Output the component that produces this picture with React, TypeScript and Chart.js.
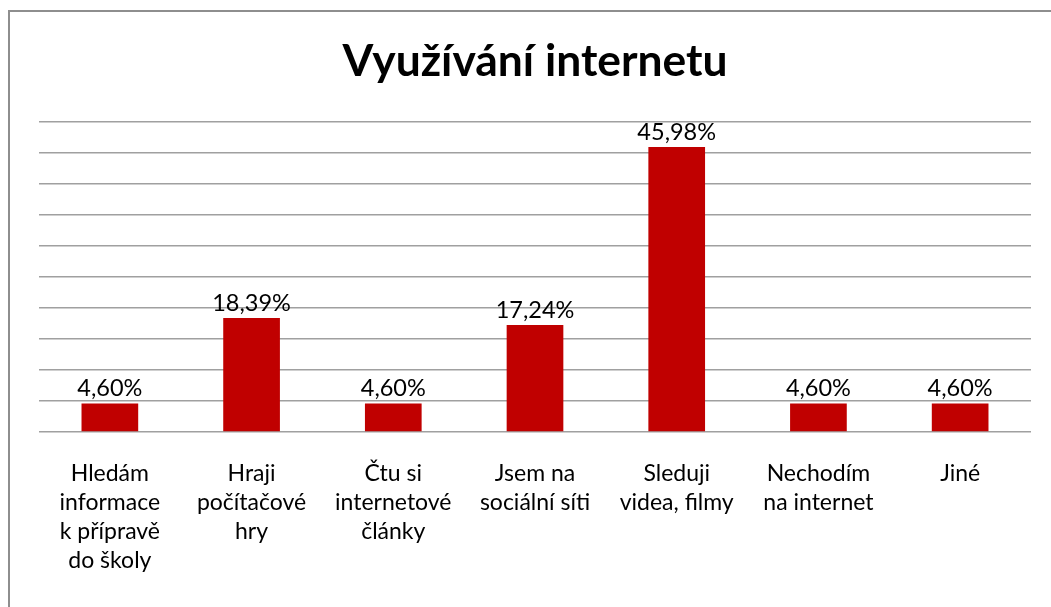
import React, { useEffect, useRef } from "react";
import { Chart, registerables } from "chart.js";

Chart.register(...registerables);

const categories: string[][] = [
  ["Hledám", "informace", "k přípravě", "do školy"],
  ["Hraji", "počítačové", "hry"],
  ["Čtu si", "internetové", "články"],
  ["Jsem na", "sociální síti"],
  ["Sleduji", "videa, filmy"],
  ["Nechodím", "na internet"],
  ["Jiné"],
];

const values: number[] = [4.6, 18.39, 4.6, 17.24, 45.98, 4.6, 4.6];

const titleText = "Využívání internetu";

const FONT = "Lato, 'Noto Sans', sans-serif";

const formatPct = (v: number) => v.toFixed(2).replace(".", ",") + "%";

const valueLabels = {
  id: "valueLabels",
  afterDatasetsDraw(chart: any) {
    const { ctx } = chart;
    const meta = chart.getDatasetMeta(0);
    ctx.save();
    ctx.font = `23.5px ${FONT}`;
    ctx.fillStyle = "#000000";
    ctx.textAlign = "center";
    ctx.textBaseline = "alphabetic";
    meta.data.forEach((bar: any, i: number) => {
      ctx.fillText(formatPct(values[i]), bar.x, bar.y - 7);
    });
    ctx.restore();
  },
};

export default function App() {
  const ref = useRef<HTMLCanvasElement | null>(null);

  useEffect(() => {
    if (!ref.current) return;
    const chart = new Chart(ref.current, {
      type: "bar",
      data: {
        labels: categories,
        datasets: [
          {
            data: values,
            backgroundColor: "#C00000",
            borderWidth: 0,
            categoryPercentage: 1,
            barPercentage: 0.4,
          },
        ],
      },
      options: {
        animation: false,
        responsive: false,
        maintainAspectRatio: false,
        layout: { padding: { left: 39, right: 20, top: 0, bottom: 0 } },
        plugins: {
          legend: { display: false },
          tooltip: { enabled: false },
          title: {
            display: true,
            text: titleText,
            color: "#000000",
            font: { family: FONT, size: 44.4, weight: "bold", lineHeight: 1.2 },
            padding: { top: 35, bottom: 33.7 },
          },
        },
        scales: {
          x: {
            grid: { display: false, drawTicks: false },
            border: { display: false },
            ticks: {
              color: "#000000",
              font: { family: FONT, size: 23, lineHeight: "29px" },
              padding: 27,
              maxRotation: 0,
              autoSkip: false,
            },
            afterFit(scale: any) {
              scale.height = 175;
            },
          },
          y: {
            min: 0,
            max: 50,
            ticks: { display: false, stepSize: 5 },
            grid: { color: "#a0a0a0", lineWidth: 1.5, drawTicks: false },
            border: { display: false },
            afterFit(scale: any) {
              scale.width = 0;
            },
          },
        },
      },
      plugins: [valueLabels],
    });
    return () => chart.destroy();
  }, []);

  return (
    <div
      style={{
        position: "fixed",
        left: 0,
        top: 0,
        width: 1051,
        height: 607,
        background: "#ffffff",
        overflow: "hidden",
      }}
    >
      <div
        style={{
          position: "absolute",
          left: 8,
          top: 10,
          width: 1100,
          height: 700,
          borderLeft: "2px solid #8e8e8e",
          borderTop: "2px solid #8e8e8e",
        }}
      />
      <canvas
        ref={ref}
        width={1051}
        height={607}
        style={{ position: "absolute", left: 0, top: 0, width: 1051, height: 607 }}
      />
    </div>
  );
}
